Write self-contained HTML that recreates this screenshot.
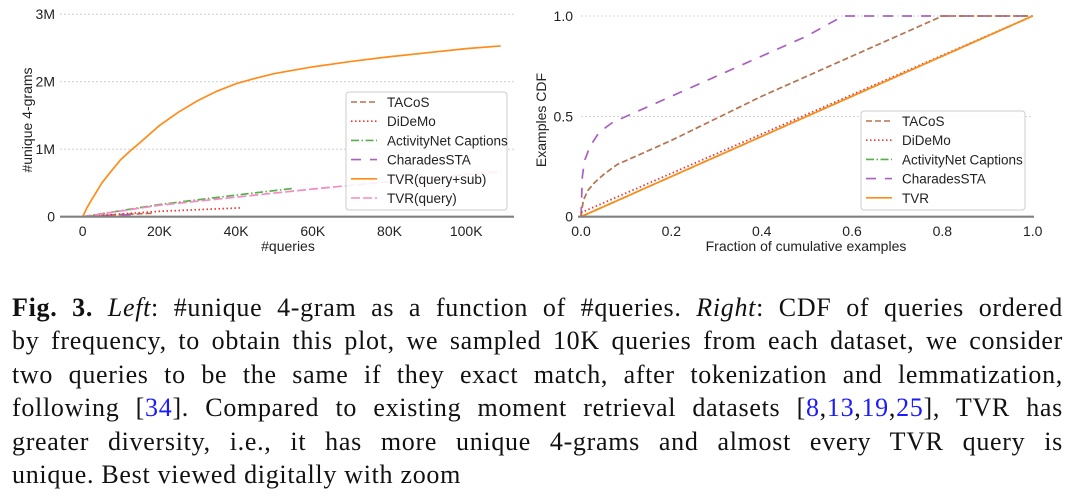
<!DOCTYPE html>
<html><head><meta charset="utf-8"><style>
body{margin:0;background:#fff;width:1074px;height:497px;overflow:hidden;position:relative}
svg{position:absolute;left:0;top:0}
#cap{position:absolute;left:12px;top:291px;width:1051px;font-family:"Liberation Serif",serif;font-size:26px;letter-spacing:0.7px;line-height:33.4px;color:#111}
#cap div{text-align:justify;text-align-last:justify;white-space:nowrap;height:33.4px}
#cap div.last{text-align-last:left}
.b{color:#1a1aff}
</style></head><body>
<svg id="chart" width="1074" height="280" font-family="Liberation Sans, sans-serif"></svg>
<div id="cap">
<div><b>Fig. 3.</b> <i>Left</i>: #unique 4-gram as a function of #queries. <i>Right</i>: CDF of queries ordered</div>
<div>by frequency, to obtain this plot, we sampled 10K queries from each dataset, we consider</div>
<div>two queries to be the same if they exact match, after tokenization and lemmatization,</div>
<div>following [<span class="b">34</span>]. Compared to existing moment retrieval datasets [<span class="b">8</span>,<span class="b">13</span>,<span class="b">19</span>,<span class="b">25</span>], TVR has</div>
<div>greater diversity, i.e., it has more unique 4-grams and almost every TVR query is</div>
<div class="last">unique. Best viewed digitally with zoom</div>
</div>
<script>
// Left chart data (x in K queries, y in M 4-grams)
const tvrSubX=[0,1,2,3.5,5,7.5,10,12.5,15,20,25,30,35,40,45,50,60,70,80,90,100,109];
const tvrSubY=[0,0.12,0.22,0.36,0.5,0.68,0.85,0.98,1.1,1.35,1.55,1.72,1.86,1.97,2.05,2.12,2.22,2.3,2.37,2.43,2.49,2.53];
const tvrQX=[0,20,40,60,80,109];
const tvrQY=[0,0.17,0.29,0.41,0.52,0.67];
const anetX=[0,20,40,55];
const anetY=[0,0.18,0.32,0.42];
const didemoX=[0,20,41];
const didemoY=[0,0.08,0.13];
const tacosX=[0,9,18];
const tacosY=[0,0.03,0.05];
const charX=[0,7,14];
const charY=[0,0.02,0.03];
const leftXTicks=[0,20,40,60,80,100];
const leftYTicks=[0,1,2,3];
// Right chart data
const rTvrX=[0,1];const rTvrY=[0,1];
const rAnetX=[0,1];const rAnetY=[0,1];
const rDidX=[0,1];const rDidY=[0.02,1];
const rTacX=[0,0.005,0.015,0.03,0.05,0.08,0.2,0.4,0.6,0.8,1];
const rTacY=[0,0.08,0.13,0.17,0.21,0.26,0.38,0.6,0.8,1,1];
const rChX=[0,0.003,0.008,0.02,0.04,0.07,0.1,0.2,0.3,0.4,0.5,0.58,1];
const rChY=[0,0.2,0.28,0.35,0.42,0.47,0.5,0.6,0.7,0.8,0.9,1,1];
const rightXTicks=[0,0.2,0.4,0.6,0.8,1.0];
const rightYTicks=[0,0.5,1.0];

const svg=document.getElementById('chart');
const NS='http://www.w3.org/2000/svg';
function mk(tag,attrs,parent){const e=document.createElementNS(NS,tag);for(const k in attrs)e.setAttribute(k,attrs[k]);(parent||svg).appendChild(e);return e;}
function txt(s,x,y,o,parent){const t=mk('text',Object.assign({x:x,y:y,'font-size':14,fill:'#222'},o||{}),parent);t.textContent=s;return t;}

const lx=v=>82.7+v/20*76.7, ly=v=>216.7-v*67.5;
const rx=v=>581+v*451.7, ry=v=>216.7-v*200.7;

const styles={
 tacos:{stroke:'#b5734f','stroke-dasharray':'6,3'},
 didemo:{stroke:'#f03030','stroke-dasharray':'1.5,2.5'},
 anet:{stroke:'#55b04a','stroke-dasharray':'8,2.5,1.5,2.5'},
 char:{stroke:'#a960c0','stroke-dasharray':'10,9'},
 tvr:{stroke:'#ff8c1a'},
 tvrq:{stroke:'#f68ac4','stroke-dasharray':'9,3'}
};
function line(xs,ys,fx,fy,st,name){
 const p=mk('polyline',Object.assign({points:xs.map((x,i)=>fx(x)+','+fy(ys[i])).join(' '),fill:'none','stroke-width':1.7,'stroke-linejoin':'round'},st));
 
 
}
leftYTicks.forEach(v=>{
 if(v>0){const g=mk('line',{x1:60,x2:514,y1:ly(v),y2:ly(v),stroke:'#c8c8c8','stroke-dasharray':'2,2','stroke-width':0.8});}
 const t=txt(v===0?'0':v+'M',55,ly(v)+5,{'text-anchor':'end'});
});
leftXTicks.forEach(v=>{const t=txt(v===0?'0':v+'K',lx(v),236,{'text-anchor':'middle'});});
let t=txt('#queries',288,251,{'text-anchor':'middle'});
t=txt('#unique 4-grams',0,0,{'text-anchor':'middle',transform:'translate(32,120) rotate(-90)'});
line(tacosX,tacosY,lx,ly,styles.tacos,'tacos-line');
line(charX,charY,lx,ly,styles.char,'charades-line');
line(didemoX,didemoY,lx,ly,styles.didemo,'didemo-line');
line(anetX,anetY,lx,ly,styles.anet,'activitynet-line');
line(tvrQX,tvrQY,lx,ly,styles.tvrq,'tvr-query-line');
line(tvrSubX,tvrSubY,lx,ly,styles.tvr,'tvr-query-sub-line');
let a=mk('line',{x1:60,x2:514,y1:216.7,y2:216.7,stroke:'#808080','stroke-width':2.2});

rightYTicks.forEach(v=>{
 if(v>0){const g=mk('line',{x1:581,x2:1032,y1:ry(v),y2:ry(v),stroke:'#c8c8c8','stroke-dasharray':'2,2','stroke-width':0.8});}
 const s=v===0?'0':v.toFixed(1);const tt=txt(s,573,ry(v)+5,{'text-anchor':'end'});
});
rightXTicks.forEach(v=>{const tt=txt(v.toFixed(1),rx(v),236,{'text-anchor':'middle'});});
t=txt('Fraction of cumulative examples',806,251,{'text-anchor':'middle'});
t=txt('Examples CDF',0,0,{'text-anchor':'middle',transform:'translate(546,120) rotate(-90)'});
line(rChX,rChY,rx,ry,styles.char,'charades-cdf');
line(rTacX,rTacY,rx,ry,styles.tacos,'tacos-cdf');
line(rDidX,rDidY,rx,ry,styles.didemo,'didemo-cdf');
line(rAnetX,rAnetY,rx,ry,styles.anet,'activitynet-cdf');
line(rTvrX,rTvrY,rx,ry,styles.tvr,'tvr-cdf');
a=mk('line',{x1:578,x2:1034,y1:216.7,y2:216.7,stroke:'#808080','stroke-width':2.2});

const leftLabels=['TACoS','DiDeMo','ActivityNet Captions','CharadesSTA','TVR(query+sub)','TVR(query)'];
const leftKeys=['tacos','didemo','anet','char','tvr','tvrq'];
const rightLabels=['TACoS','DiDeMo','ActivityNet Captions','CharadesSTA','TVR'];
const rightKeys=['tacos','didemo','anet','char','tvr'];
function legend(x,y,w,h,labels,keys,name){
 const g=mk('g',{});
 mk('rect',{x:x,y:y,width:w,height:h,rx:3,fill:'#fff','fill-opacity':0.85,stroke:'#ccc'},g);
 labels.forEach((l,i)=>{
  const cy=y+10+i*19.2;
  const ln=mk('line',Object.assign({x1:x+5,x2:x+31,y1:cy,y2:cy,'stroke-width':1.6},styles[keys[i]]),g);
  
  const tt=txt(l,x+41,cy+5,{'font-size':13.5},g);
 });
}
legend(346,92,161,118,leftLabels,leftKeys,'left-legend');
legend(861,111,164,99,rightLabels,rightKeys,'right-legend');
</script>
</body></html>
